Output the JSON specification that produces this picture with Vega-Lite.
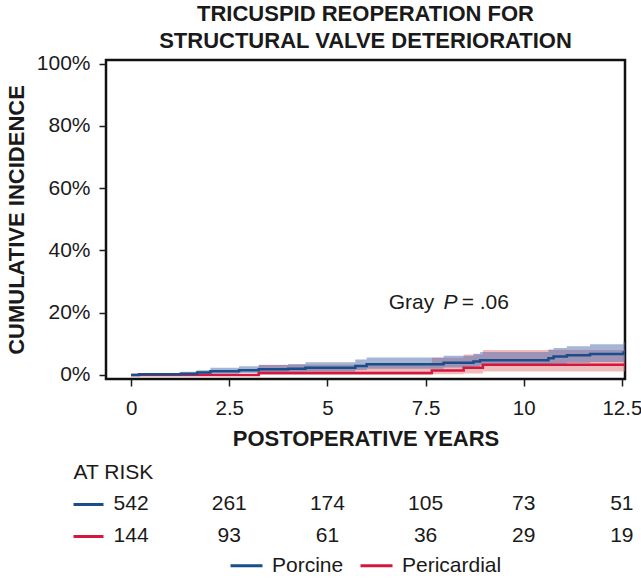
{
  "$schema": "https://vega.github.io/schema/vega-lite/v6.json",
  "padding": {"left": 4, "top": 1, "right": 0, "bottom": 0},
  "autosize": {"type": "pad"},
  "background": "white",
  "config": {
    "font": "Liberation Sans",
    "view": {"stroke": "#111111", "strokeWidth": 2.5},
    "axis": {
      "labelFont": "Liberation Sans", "labelFontSize": 21, "labelColor": "#1a1a1a",
      "titleFont": "Liberation Sans", "titleFontSize": 22, "titleFontWeight": "bold", "titleColor": "#1a1a1a",
      "tickColor": "#1a1a1a", "tickWidth": 1.5, "tickSize": 7, "domain": false, "grid": false
    },
    "legend": {
      "labelFont": "Liberation Sans", "labelFontSize": 21, "labelColor": "#1a1a1a",
      "layout": {"bottom": {"anchor": "middle"}}
    }
  },
  "datasets": {
    "curves": [
      {"group": "Porcine", "t": 0, "est": 0, "lo": 0, "hi": 0},
      {"group": "Porcine", "t": 0.2, "est": 0.2, "lo": 0, "hi": 0.6},
      {"group": "Porcine", "t": 1.26, "est": 0.4, "lo": 0, "hi": 1.0},
      {"group": "Porcine", "t": 1.68, "est": 0.8, "lo": 0.1, "hi": 1.5},
      {"group": "Porcine", "t": 2.02, "est": 1.2, "lo": 0.4, "hi": 2.3},
      {"group": "Porcine", "t": 2.75, "est": 1.5, "lo": 0.6, "hi": 2.8},
      {"group": "Porcine", "t": 3.25, "est": 1.8, "lo": 0.9, "hi": 3.2},
      {"group": "Porcine", "t": 4.0, "est": 2.0, "lo": 1.0, "hi": 3.5},
      {"group": "Porcine", "t": 4.44, "est": 2.3, "lo": 1.1, "hi": 4.1},
      {"group": "Porcine", "t": 5.71, "est": 2.9, "lo": 1.6, "hi": 5.0},
      {"group": "Porcine", "t": 6.0, "est": 3.4, "lo": 2.0, "hi": 5.6},
      {"group": "Porcine", "t": 7.96, "est": 3.9, "lo": 2.4, "hi": 6.2},
      {"group": "Porcine", "t": 8.72, "est": 4.3, "lo": 2.7, "hi": 6.8},
      {"group": "Porcine", "t": 8.89, "est": 4.7, "lo": 3.0, "hi": 7.4},
      {"group": "Porcine", "t": 10.63, "est": 5.4, "lo": 3.4, "hi": 8.2},
      {"group": "Porcine", "t": 10.76, "est": 5.9, "lo": 3.6, "hi": 8.7},
      {"group": "Porcine", "t": 11.1, "est": 6.3, "lo": 3.9, "hi": 9.2},
      {"group": "Porcine", "t": 11.69, "est": 6.7, "lo": 4.2, "hi": 9.9},
      {"group": "Porcine", "t": 12.54, "est": 7.2, "lo": 4.5, "hi": 10.7},
      {"group": "Porcine", "t": 12.58, "est": 7.2, "lo": 4.5, "hi": 10.7},
      {"group": "Pericardial", "t": 0, "est": 0, "lo": 0, "hi": 0},
      {"group": "Pericardial", "t": 3.25, "est": 0.6, "lo": 0, "hi": 3.3},
      {"group": "Pericardial", "t": 7.66, "est": 1.4, "lo": 0.2, "hi": 5.5},
      {"group": "Pericardial", "t": 8.47, "est": 2.3, "lo": 0.5, "hi": 6.6},
      {"group": "Pericardial", "t": 8.96, "est": 3.3, "lo": 1.1, "hi": 8.0},
      {"group": "Pericardial", "t": 12.58, "est": 3.3, "lo": 1.1, "hi": 8.0}
    ],
    "risk": [
      {"group": "Porcine", "t": 0, "n": 542},
      {"group": "Porcine", "t": 2.5, "n": 261},
      {"group": "Porcine", "t": 5, "n": 174},
      {"group": "Porcine", "t": 7.5, "n": 105},
      {"group": "Porcine", "t": 10, "n": 73},
      {"group": "Porcine", "t": 12.5, "n": 51},
      {"group": "Pericardial", "t": 0, "n": 144},
      {"group": "Pericardial", "t": 2.5, "n": 93},
      {"group": "Pericardial", "t": 5, "n": 61},
      {"group": "Pericardial", "t": 7.5, "n": 36},
      {"group": "Pericardial", "t": 10, "n": 29},
      {"group": "Pericardial", "t": 12.5, "n": 19}
    ],
    "note": [{"part": "Gray"}],
    "noteP": [{"part": "P"}],
    "noteV": [{"part": "= .06"}]
  },
  "bounds": "flush",
  "spacing": 77,
  "resolve": {"scale": {"color": "shared"}, "legend": {"color": "shared"}},
  "vconcat": [
    {
      "width": 519,
      "height": 319,
      "title": {
        "text": ["TRICUSPID REOPERATION FOR", "STRUCTURAL VALVE DETERIORATION"],
        "font": "Liberation Sans", "fontSize": 22, "fontWeight": "bold", "color": "#1a1a1a",
        "anchor": "middle", "frame": "group", "lineHeight": 27, "offset": 0
      },
      "layer": [
        {
          "data": {"name": "curves"},
          "transform": [{"filter": "datum.group === 'Pericardial'"}],
          "mark": {"type": "area", "interpolate": "step-after", "color": "#e07878", "opacity": 0.5},
          "encoding": {
            "x": {
              "field": "t", "type": "quantitative",
              "scale": {"domain": [-0.64, 12.58], "nice": false, "zero": false},
              "axis": {"values": [0, 2.5, 5, 7.5, 10, 12.5], "labelExpr": "'' + datum.value", "labelFontSize": 20.5, "labelPadding": 12, "titlePadding": 10, "labelFlush": false},
              "title": "POSTOPERATIVE YEARS"
            },
            "y": {
              "field": "lo", "type": "quantitative",
              "scale": {"domain": [-1.3, 101.2], "nice": false, "zero": false},
              "axis": {"values": [0, 20, 40, 60, 80, 100], "labelExpr": "datum.value + '%'", "labelPadding": 9, "titlePadding": 8},
              "title": "CUMULATIVE INCIDENCE"
            },
            "y2": {"field": "hi"}
          }
        },
        {
          "data": {"name": "curves"},
          "transform": [{"filter": "datum.group === 'Porcine'"}],
          "mark": {"type": "area", "interpolate": "step-after", "color": "#4d6bad", "opacity": 0.5},
          "encoding": {
            "x": {"field": "t", "type": "quantitative"},
            "y": {"field": "lo", "type": "quantitative"},
            "y2": {"field": "hi"}
          }
        },
        {
          "data": {"name": "curves"},
          "transform": [{"filter": "datum.group === 'Pericardial'"}],
          "mark": {"type": "line", "interpolate": "step-after", "strokeWidth": 2.5},
          "encoding": {
            "x": {"field": "t", "type": "quantitative"},
            "y": {"field": "est", "type": "quantitative"},
            "color": {
              "field": "group", "type": "nominal",
              "scale": {"domain": ["Porcine", "Pericardial"], "range": ["#1a4e8a", "#d5173f"]},
              "legend": {
                "orient": "bottom", "direction": "horizontal", "title": null,
                "symbolType": "stroke", "symbolStrokeWidth": 3, "symbolSize": 1024,
                "labelOffset": 8, "columnPadding": 10, "offset": -4, "padding": 0
              }
            }
          }
        },
        {
          "data": {"name": "curves"},
          "transform": [{"filter": "datum.group === 'Porcine'"}],
          "mark": {"type": "line", "interpolate": "step-after", "strokeWidth": 2.5},
          "encoding": {
            "x": {"field": "t", "type": "quantitative"},
            "y": {"field": "est", "type": "quantitative"},
            "color": {"field": "group", "type": "nominal"}
          }
        },
        {
          "data": {"name": "note"},
          "mark": {"type": "text", "align": "left", "baseline": "alphabetic", "fontSize": 21, "font": "Liberation Sans", "color": "#1a1a1a"},
          "encoding": {
            "x": {"datum": 6.56, "type": "quantitative"},
            "y": {"datum": 21.1, "type": "quantitative"},
            "text": {"field": "part", "type": "nominal"}
          }
        },
        {
          "data": {"name": "noteP"},
          "mark": {"type": "text", "align": "left", "baseline": "alphabetic", "fontSize": 21, "fontStyle": "italic", "font": "Liberation Sans", "color": "#1a1a1a"},
          "encoding": {
            "x": {"datum": 7.96, "type": "quantitative"},
            "y": {"datum": 21.1, "type": "quantitative"},
            "text": {"field": "part", "type": "nominal"}
          }
        },
        {
          "data": {"name": "noteV"},
          "mark": {"type": "text", "align": "left", "baseline": "alphabetic", "fontSize": 21, "font": "Liberation Sans", "color": "#1a1a1a"},
          "encoding": {
            "x": {"datum": 8.42, "type": "quantitative"},
            "y": {"datum": 21.1, "type": "quantitative"},
            "text": {"field": "part", "type": "nominal"}
          }
        }
      ]
    },
    {
      "width": 519,
      "height": 96,
      "view": {"stroke": null},
      "data": {"name": "risk"},
      "mark": {"type": "text", "fontSize": 21, "font": "Liberation Sans", "color": "#1a1a1a", "baseline": "middle"},
      "encoding": {
        "x": {
          "field": "t", "type": "quantitative",
          "scale": {"domain": [-0.64, 12.58], "nice": false, "zero": false},
          "axis": null
        },
        "y": {
          "field": "group", "type": "nominal",
          "scale": {"type": "point", "domain": ["AT RISK", "Porcine", "Pericardial"], "padding": 0.5},
          "axis": {
            "title": null, "domain": false, "offset": 3, "tickSize": 30, "tickWidth": 3,
            "tickColor": {"condition": {"test": "datum.value === 'Porcine'", "value": "#1a4e8a"}, "value": "#d5173f"},
            "tickOpacity": {"condition": {"test": "datum.value === 'AT RISK'", "value": 0}, "value": 1},
            "labelExpr": "datum.value === 'AT RISK' ? 'AT RISK' : ''",
            "labelAlign": "left", "labelPadding": 0, "labelBaseline": "middle"
          }
        },
        "text": {"field": "n", "type": "quantitative"}
      }
    }
  ]
}
